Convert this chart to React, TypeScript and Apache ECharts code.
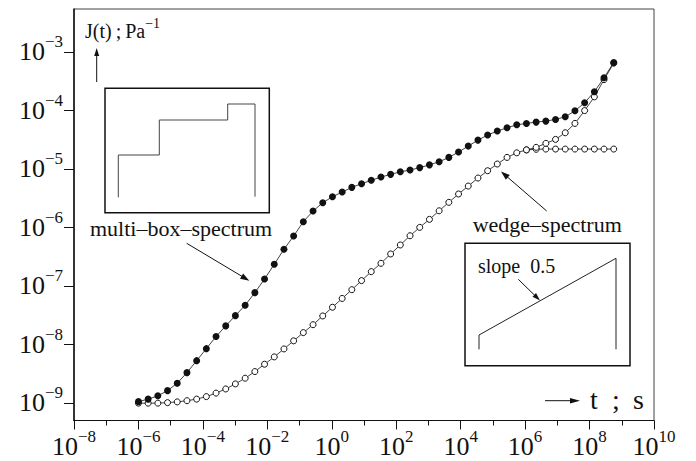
import React, { useEffect, useRef } from 'react';
import * as echarts from 'echarts';

// time values t (s), one point per factor of two
const tValues = [
  1e-6, 2e-6, 4e-6, 8e-6, 1.6e-5, 3.2e-5, 6.4e-5, 1.28e-4, 2.56e-4, 5.12e-4,
  1.02e-3, 2.05e-3, 4.1e-3, 8.19e-3, 1.64e-2, 3.28e-2, 6.55e-2, 0.131, 0.262, 0.524,
  1.05, 2.1, 4.19, 8.39, 16.8, 33.6, 67.1, 134, 268, 537,
  1074, 2147, 4295, 8590, 1.72e4, 3.44e4, 6.87e4, 1.37e5, 2.75e5, 5.5e5,
  1.1e6, 2.2e6, 4.4e6, 8.8e6, 1.76e7, 3.52e7, 7.04e7, 1.41e8, 2.81e8, 5.63e8,
];

// multi-box-spectrum, filled circles
const multiBoxJ = [
  1.05e-9, 1.16e-9, 1.32e-9, 1.62e-9, 2.17e-9, 3.29e-9, 5.27e-9, 8.45e-9, 1.36e-8, 2.07e-8,
  3.1e-8, 4.67e-8, 7.66e-8, 1.31e-7, 2.34e-7, 4.22e-7, 7.11e-7, 1.25e-6, 1.9e-6, 2.64e-6,
  3.33e-6, 4.02e-6, 4.83e-6, 5.57e-6, 6.37e-6, 7.24e-6, 8.05e-6, 8.91e-6, 9.55e-6, 1.05e-5,
  1.17e-5, 1.32e-5, 1.57e-5, 1.94e-5, 2.45e-5, 3.1e-5, 3.78e-5, 4.43e-5, 5.04e-5, 5.66e-5,
  5.98e-5, 6.3e-5, 6.55e-5, 7.0e-5, 7.76e-5, 9.82e-5, 1.35e-4, 2.08e-4, 3.6e-4, 6.59e-4,
];

// wedge-spectrum, open circles: common part (first 41 points)
const wedgeSharedJ = [
  9.9e-10, 9.9e-10, 9.9e-10, 1.01e-9, 1.04e-9, 1.09e-9, 1.16e-9, 1.28e-9, 1.47e-9, 1.73e-9,
  2.11e-9, 2.64e-9, 3.43e-9, 4.58e-9, 6.11e-9, 8.36e-9, 1.15e-8, 1.59e-8, 2.17e-8, 3.06e-8,
  4.31e-8, 6.1e-8, 8.6e-8, 1.23e-7, 1.75e-7, 2.43e-7, 3.51e-7, 5.0e-7, 7.19e-7, 1.0e-6,
  1.37e-6, 1.92e-6, 2.68e-6, 3.72e-6, 5.08e-6, 6.97e-6, 9.29e-6, 1.21e-5, 1.57e-5, 1.88e-5,
  2.11e-5,
];
// plateau branch (last 9 points)
const wedgePlateauJ = [2.16e-5, 2.18e-5, 2.18e-5, 2.18e-5, 2.18e-5, 2.18e-5, 2.18e-5, 2.18e-5, 2.18e-5];
// rising branch (last 9 points)
const wedgeRisingJ = [2.33e-5, 2.73e-5, 3.19e-5, 4.14e-5, 5.98e-5, 9.91e-5, 1.7e-4, 3.35e-4, 6.4e-4];

const xMajorTicks = [1e-8, 1e-6, 1e-4, 1e-2, 1, 1e2, 1e4, 1e6, 1e8, 1e10];
const xMinorTicks = [1e-7, 1e-5, 1e-3, 1e-1, 1e1, 1e3, 1e5, 1e7, 1e9];
const yTicks = [1e-9, 1e-8, 1e-7, 1e-6, 1e-5, 1e-4, 1e-3];

const FONT = "'Liberation Serif', 'Times New Roman', serif";
const INK = '#111';

const powRich = {
  b: { fontFamily: FONT, fontSize: 26, lineHeight: 37, color: INK },
  s: { fontFamily: FONT, fontSize: 17, lineHeight: 17, color: INK, verticalAlign: 'top' },
};
const fmtPow = (v: number) => {
  const e = Math.round(Math.log10(v));
  return `{b|10}{s|${e < 0 ? '\u2212' + -e : e}}`;
};

function arrow(x1: number, y1: number, x2: number, y2: number, len = 9, w = 3) {
  const dx = x2 - x1, dy = y2 - y1;
  const L = Math.hypot(dx, dy);
  const ux = dx / L, uy = dy / L;
  const bx = x2 - ux * len, by = y2 - uy * len;
  return [
    { type: 'line', silent: true, shape: { x1, y1, x2: bx + ux, y2: by + uy }, style: { stroke: INK, lineWidth: 1 } },
    {
      type: 'polygon', silent: true,
      shape: { points: [[x2, y2], [bx - uy * w, by + ux * w], [bx + uy * w, by - ux * w]] },
      style: { fill: INK },
    },
  ];
}

function text(x: number, y: number, str: string, size: number, extra: any = {}) {
  return {
    type: 'text', silent: true, x, y,
    style: { text: str, fontFamily: FONT, fontSize: size, fill: INK, verticalAlign: 'middle', align: 'left', ...extra },
  };
}

export default function App() {
  const ref = useRef<HTMLDivElement>(null);
  useEffect(() => {
    if (!ref.current) return;
    const chart = echarts.init(ref.current, null, { renderer: 'svg' });

    const plateauData = tValues.map((t, i) => [t, i < wedgeSharedJ.length ? wedgeSharedJ[i] : wedgePlateauJ[i - wedgeSharedJ.length]]);
    const risingData = [[tValues[wedgeSharedJ.length - 1], wedgeSharedJ[wedgeSharedJ.length - 1]]].concat(
      wedgeRisingJ.map((j, k) => [tValues[wedgeSharedJ.length + k], j])
    );
    const filledData = tValues.map((t, i) => [t, multiBoxJ[i]]);

    const openStyle = { color: '#fff', borderColor: INK, borderWidth: 1 };

    const option: any = {
      animation: false,
      backgroundColor: '#fff',
      grid: {
        left: 74, right: 42, top: 9, bottom: 40.5,
        containLabel: false, outerBoundsMode: 'none',
        show: true, borderColor: '#444', borderWidth: 1, backgroundColor: 'transparent',
      },
      xAxis: [
        {
          type: 'log', logBase: 10, min: 1e-8, max: 1e10, position: 'bottom',
          axisLine: { show: true, onZero: false, lineStyle: { color: INK, width: 1.2 } },
          axisTick: { show: true, customValues: xMajorTicks, length: 9, lineStyle: { color: INK, width: 1 } },
          axisLabel: { show: true, customValues: xMajorTicks, formatter: fmtPow, rich: powRich, margin: 7 },
          splitLine: { show: false },
          minorTick: { show: false },
        },
        {
          type: 'log', logBase: 10, min: 1e-8, max: 1e10, position: 'bottom',
          axisLine: { show: false, onZero: false },
          axisTick: { show: true, customValues: xMinorTicks, length: 5, lineStyle: { color: INK, width: 1 } },
          axisLabel: { show: false },
          splitLine: { show: false },
        },
      ],
      yAxis: {
        type: 'log', logBase: 10, min: 5.0e-10, max: 5.4e-3,
        axisLine: { show: true, onZero: false, lineStyle: { color: INK, width: 1.5 } },
        axisTick: { show: true, customValues: yTicks, length: 10, lineStyle: { color: INK, width: 1 } },
        axisLabel: { show: true, customValues: yTicks, formatter: fmtPow, rich: powRich, margin: 11 },
        splitLine: { show: false },
      },
      series: [
        {
          name: 'wedge-spectrum', type: 'line', data: plateauData,
          symbol: 'circle', symbolSize: 6, itemStyle: openStyle,
          lineStyle: { color: INK, width: 0.8 }, z: 2,
        },
        {
          name: 'wedge-spectrum (rising)', type: 'line', data: risingData,
          symbol: 'circle', symbolSize: 6, itemStyle: openStyle,
          lineStyle: { color: INK, width: 0.8 }, z: 3,
        },
        {
          name: 'multi-box-spectrum', type: 'line', data: filledData,
          symbol: 'circle', symbolSize: 7, itemStyle: { color: INK, borderColor: INK, borderWidth: 0 },
          lineStyle: { color: INK, width: 0.8 }, z: 4,
        },
      ],
      graphic: {
        elements: [
          // y axis title
          text(85, 31, '{m|J(t)\u2009;\u2009Pa}{s|\u22121}', 20, {
            rich: {
              m: { fontFamily: FONT, fontSize: 20, lineHeight: 30, color: INK },
              s: { fontFamily: FONT, fontSize: 14, lineHeight: 14, color: INK, verticalAlign: 'top' },
            },
          }),
          ...arrow(96.7, 82, 96.7, 48, 8, 2.5),
          // multi-box inset
          { type: 'rect', silent: true, shape: { x: 105, y: 88.3, width: 164.3, height: 124.4 }, style: { fill: 'none', stroke: INK, lineWidth: 1.5 } },
          {
            type: 'polyline', silent: true,
            shape: { points: [[118.3, 197.3], [118.3, 155], [159.3, 155], [159.3, 120], [227.7, 120], [227.7, 104], [255, 104], [255, 196.7]] },
            style: { stroke: '#444', lineWidth: 1, fill: 'none' },
          },
          text(90, 228.5, 'multi\u2013box\u2013spectrum', 22),
          ...arrow(186.7, 243.3, 249.3, 280.7),
          // wedge inset
          text(472.7, 224.2, 'wedge\u2013spectrum', 22),
          ...arrow(546.7, 211, 501, 171.5),
          { type: 'rect', silent: true, shape: { x: 465, y: 243.3, width: 165, height: 122.4 }, style: { fill: 'none', stroke: INK, lineWidth: 1.5 } },
          {
            type: 'polyline', silent: true,
            shape: { points: [[479, 349.3], [479, 335], [616, 258.3], [616, 349.3]] },
            style: { stroke: '#222', lineWidth: 1, fill: 'none' },
          },
          text(478, 265.5, 'slope  0.5', 20),
          ...arrow(518.3, 279.3, 540, 300.5, 8, 2.5),
          // x axis title
          ...arrow(545, 400.7, 580, 400.7, 10, 2.8),
          text(590, 399, 't', 28),
          text(612, 399, ';', 28),
          text(633, 399, 's', 28),
        ],
      },
    };

    chart.setOption(option);
    return () => chart.dispose();
  }, []);

  return <div ref={ref} style={{ position: 'fixed', left: 0, top: 0, width: 696, height: 461 }} />;
}
